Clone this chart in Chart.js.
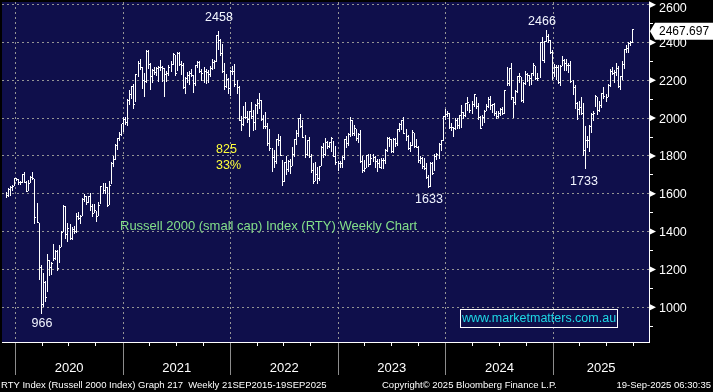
<!DOCTYPE html>
<html>
<head>
<meta charset="utf-8">
<title>RTY Index weekly</title>
<script src="https://cdn.jsdelivr.net/npm/chart.js@4.4.1/dist/chart.umd.min.js"></script>
<style>
  html, body { margin: 0; padding: 0; background: #000; }
  #wrap { width: 713px; height: 392px; }
</style>
</head>
<body>
<div id="wrap"><canvas id="rtyChart" width="713" height="392"></canvas></div>
<script>
// weekly bars, first one is the week ending Fri 22 Nov 2019, last one 19 Sep 2025
const firstWeek = Date.UTC(2019, 10, 22);

const weekClose = [
  1589, 1624, 1635, 1636, 1678, 1677,
  // 2020
  1658, 1657, 1700, 1662, 1614, 1656, 1687, 1679, 1476, 1450, 1210, 1014, 1131, 1052, 1247, 1212, 1229, 1260,
  1293, 1207, 1316, 1394, 1535, 1387, 1418, 1362, 1413, 1398, 1479, 1467, 1480, 1568, 1585, 1554, 1584, 1535,
  1497, 1509, 1479, 1537, 1636, 1619, 1633, 1538, 1645, 1760, 1780, 1855, 1892, 1915, 1969, 1990,
  // 2021
  1975, 2091, 2123, 2168, 2074, 2233, 2289, 2266, 2201, 2192, 2352, 2286, 2221, 2254, 2243, 2264, 2270, 2266,
  2264, 2229, 2236, 2269, 2286, 2337, 2238, 2344, 2285, 2280, 2163, 2209, 2226, 2236, 2227, 2181, 2277, 2292,
  2249, 2237, 2248, 2241, 2233, 2263, 2293, 2297, 2437, 2412, 2343, 2245, 2168, 2202, 2156, 2249, 2245,
  // 2022
  2179, 2162, 1988, 1965, 2003, 2004, 1993, 2035, 2009, 1979, 2068, 2077, 2092, 1994, 1955, 1953, 1864, 1839,
  1792, 1773, 1887, 1883, 1800, 1665, 1765, 1728, 1769, 1744, 1806, 1885, 1921, 1996, 1957, 1899, 1809, 1882,
  1798, 1721, 1665, 1702, 1682, 1742, 1846, 1806, 1869, 1848, 1869, 1892, 1797, 1764, 1760, 1761,
  // 2023
  1792, 1887, 1867, 1912, 1985, 1918, 1946, 1890, 1911, 1772, 1725, 1735, 1802, 1754, 1784, 1792, 1768, 1758,
  1740, 1774, 1774, 1830, 1890, 1889, 1821, 1889, 1864, 1942, 1964, 1987, 1921, 1904, 1840, 1853, 1922, 1852,
  1847, 1776, 1785, 1745, 1731, 1684, 1636, 1760, 1705, 1797, 1807, 1863, 1880, 2006, 2017, 2027,
  // 2024
  1951, 1950, 1947, 1986, 1962, 2013, 2032, 2016, 2076, 2083, 2039, 2072, 2124, 2062, 2003, 1947, 2002, 2036,
  2059, 2096, 2069, 2070, 2023, 2006, 2022, 2047, 2026, 2148, 2184, 2260, 2109, 2083, 2142, 2218, 2218, 2092,
  2182, 2228, 2223, 2212, 2234, 2276, 2208, 2209, 2399, 2303, 2406, 2434, 2409, 2346, 2241, 2266,
  // 2025
  2268, 2189, 2275, 2307, 2287, 2280, 2280, 2195, 2163, 2075, 2044, 2057, 2023, 1827, 1881, 1883, 1957, 2020,
  2023, 2113, 2039, 2066, 2132, 2112, 2109, 2172, 2249, 2234, 2240, 2261, 2167, 2218, 2286, 2362, 2366, 2392,
  2398, 2467.697
];

const weekHigh = [
  1610, 1628, 1640, 1646, 1682, 1681,
  1678, 1668, 1705, 1715, 1670, 1673, 1696, 1716, 1680, 1550, 1444, 1225, 1180, 1138, 1280, 1250, 1240, 1336,
  1300, 1305, 1330, 1405, 1538, 1535, 1445, 1440, 1425, 1430, 1498, 1505, 1485, 1575, 1600, 1590, 1590, 1605,
  1545, 1545, 1510, 1555, 1640, 1655, 1655, 1635, 1668, 1770, 1800, 1862, 1895, 1925, 1970, 2005,
  2007, 2101, 2150, 2168, 2178, 2235, 2300, 2315, 2270, 2240, 2360, 2358, 2290, 2260, 2268, 2270, 2275, 2305,
  2275, 2266, 2250, 2280, 2302, 2345, 2336, 2348, 2350, 2300, 2290, 2215, 2245, 2250, 2260, 2230, 2280, 2300,
  2300, 2260, 2270, 2260, 2255, 2275, 2310, 2305, 2442, 2458, 2420, 2390, 2290, 2235, 2210, 2255, 2275,
  2285, 2200, 2170, 2010, 2062, 2085, 2040, 2040, 2085, 2045, 2075, 2100, 2135, 2098, 2015, 2030, 1975, 1945,
  1842, 1830, 1890, 1915, 1905, 1780, 1770, 1798, 1780, 1785, 1845, 1890, 1935, 2000, 2021, 1990, 1910, 1885,
  1900, 1810, 1765, 1770, 1740, 1745, 1850, 1870, 1895, 1880, 1875, 1900, 1880, 1850, 1775, 1775,
  1800, 1890, 1905, 1920, 2004, 1990, 1965, 1945, 1920, 1935, 1800, 1780, 1805, 1810, 1810, 1810, 1800, 1785,
  1785, 1790, 1790, 1835, 1900, 1900, 1890, 1895, 1895, 1945, 1975, 1990, 2004, 1945, 1910, 1875, 1935, 1920,
  1890, 1855, 1800, 1795, 1790, 1765, 1700, 1770, 1770, 1810, 1815, 1870, 1885, 2010, 2050, 2040,
  2027, 1975, 1955, 2000, 2000, 2015, 2070, 2030, 2080, 2110, 2075, 2090, 2125, 2110, 2080, 2010, 2015, 2045,
  2075, 2110, 2115, 2075, 2080, 2040, 2040, 2055, 2060, 2150, 2270, 2265, 2290, 2110, 2150, 2225, 2240, 2215,
  2190, 2250, 2240, 2230, 2240, 2290, 2275, 2240, 2405, 2430, 2410, 2466, 2445, 2415, 2360, 2285,
  2280, 2280, 2280, 2330, 2310, 2310, 2290, 2300, 2200, 2175, 2085, 2090, 2110, 2080, 1960, 1905, 1965, 2025,
  2040, 2120, 2110, 2090, 2135, 2165, 2130, 2180, 2260, 2270, 2255, 2290, 2275, 2225, 2300, 2365, 2385, 2400,
  2410, 2470
];

const weekLow = [
  1575, 1585, 1590, 1615, 1640, 1665,
  1648, 1645, 1655, 1655, 1610, 1617, 1655, 1672, 1438, 1443, 1146, 966, 1000, 1026, 1080, 1165, 1170, 1245,
  1250, 1190, 1235, 1320, 1396, 1360, 1345, 1355, 1355, 1385, 1390, 1460, 1440, 1480, 1555, 1540, 1550, 1510,
  1475, 1497, 1450, 1480, 1545, 1600, 1600, 1530, 1540, 1650, 1740, 1780, 1830, 1880, 1905, 1925,
  1965, 1960, 2070, 2100, 2050, 2085, 2215, 2255, 2155, 2110, 2188, 2260, 2150, 2185, 2230, 2225, 2190, 2250,
  2190, 2110, 2190, 2225, 2246, 2280, 2225, 2250, 2275, 2230, 2155, 2130, 2185, 2175, 2215, 2135, 2170, 2265,
  2240, 2195, 2185, 2180, 2185, 2220, 2255, 2260, 2295, 2360, 2330, 2240, 2150, 2160, 2130, 2115, 2230,
  2165, 2130, 1985, 1930, 1960, 1995, 1975, 1900, 1995, 1930, 1935, 2020, 2050, 1985, 1945, 1945, 1850, 1825,
  1715, 1735, 1755, 1852, 1798, 1641, 1660, 1700, 1715, 1705, 1745, 1795, 1860, 1900, 1950, 1895, 1790, 1800,
  1790, 1710, 1650, 1665, 1650, 1670, 1745, 1790, 1800, 1835, 1840, 1820, 1795, 1750, 1720, 1735,
  1735, 1780, 1840, 1850, 1900, 1905, 1905, 1880, 1870, 1765, 1710, 1715, 1735, 1740, 1750, 1770, 1735, 1715,
  1735, 1730, 1730, 1755, 1820, 1845, 1815, 1815, 1845, 1855, 1925, 1935, 1915, 1880, 1830, 1820, 1855, 1840,
  1840, 1765, 1755, 1730, 1725, 1680, 1633, 1636, 1700, 1720, 1780, 1785, 1825, 1880, 1990, 2005,
  1945, 1930, 1900, 1935, 1945, 1945, 1950, 1995, 2005, 2040, 2025, 2020, 2060, 2050, 1990, 1943, 1960, 1975,
  2040, 2055, 2045, 2025, 2010, 1995, 2000, 2010, 2015, 2020, 2170, 2170, 2095, 2000, 2070, 2135, 2185, 2085,
  2080, 2175, 2190, 2170, 2175, 2225, 2200, 2195, 2210, 2300, 2290, 2405, 2395, 2340, 2200, 2220,
  2200, 2180, 2170, 2275, 2250, 2250, 2240, 2185, 2120, 2050, 1990, 2015, 2015, 1800, 1733, 1840, 1820, 1920,
  1985, 2060, 2015, 2030, 2055, 2100, 2085, 2110, 2165, 2230, 2185, 2225, 2160, 2150, 2200, 2260, 2345, 2345,
  2380, 2395
];

const yTicks = [1000, 1200, 1400, 1600, 1800, 2000, 2200, 2400, 2600];
const yMinor = [900, 1100, 1300, 1500, 1700, 1900, 2100, 2300, 2500];
const yearLabels = ['2020', '2021', '2022', '2023', '2024', '2025'];

const DAY = 86400000;
const FONT = "'Liberation Sans', Arial, sans-serif";
const NAVY = '#0f0f4b';
const GRID = '#959595';
const barShift = 9; // Bloomberg draws the weekly bar a little right of the friday

const yearStarts = yearLabels.map(y => Date.UTC(+y, 0, 1) / DAY);
const quarterStarts = [];
for (let y = 2019; y <= 2025; y++) {
    [3, 6, 9].forEach(m => quarterStarts.push(Date.UTC(y, m, 1) / DAY));
}
const xMin = yearStarts[0] - 45;
const xMax = yearStarts[5] + 325;
const weekX = weekClose.map((_, i) => firstWeek / DAY + 7 * i + barShift);

// little 3x1 image: the close tick sits one pixel right of the bar
const closeTick = document.createElement('canvas');
closeTick.width = 3;
closeTick.height = 1;
const tctx = closeTick.getContext('2d');
tctx.fillStyle = '#ffffff';
tctx.fillRect(2, 0, 1, 1);

const notes = [
    {text: '2458', x: 219, y: 18, color: '#f2f5ff', align: 'center'},
    {text: '825', x: 216, y: 150, color: '#ffff3a', align: 'left'},
    {text: '33%', x: 216, y: 166, color: '#ffff3a', align: 'left'},
    {text: '966', x: 42, y: 324, color: '#f2f5ff', align: 'center'},
    {text: '1633', x: 429, y: 200, color: '#f2f5ff', align: 'center'},
    {text: '2466', x: 542, y: 22, color: '#f2f5ff', align: 'center'},
    {text: '1733', x: 584, y: 182, color: '#f2f5ff', align: 'center'}
];

const decor = {
    id: 'decor',
    beforeDraw(chart) {
        const {ctx, chartArea: a} = chart;
        ctx.save();
        ctx.fillStyle = '#000';
        ctx.fillRect(0, 0, chart.width, chart.height);
        ctx.fillStyle = NAVY;
        ctx.fillRect(a.left, a.top, a.right - a.left, a.bottom - a.top);
        ctx.restore();
    },
    beforeDatasetsDraw(chart) {
        // snap bars and ticks on whole pixels so they stay crisp
        chart.getDatasetMeta(0).data.forEach(el => {
            el.x = Math.floor(el.x) + 0.5;
            el.y = Math.round(el.y);
            el.base = Math.round(el.base);
        });
        chart.getDatasetMeta(1).data.forEach(el => {
            el.x = Math.floor(el.x) + 0.5;
            el.y = Math.floor(el.y) + 0.5;
        });
    },
    afterDraw(chart) {
        const {ctx, chartArea: a} = chart;
        const xs = chart.scales.x, ys = chart.scales.y;
        ctx.save();

        // x axis: year separators, quarter ticks, year labels
        ctx.lineWidth = 1;
        ctx.strokeStyle = '#8c8c8c';
        yearStarts.forEach(v => {
            const px = Math.floor(xs.getPixelForValue(v)) + 0.5;
            ctx.beginPath();
            ctx.moveTo(px, a.bottom + 1);
            ctx.lineTo(px, a.bottom + 33);
            ctx.stroke();
        });
        ctx.strokeStyle = '#ffffff';
        quarterStarts.forEach(v => {
            if (v < xMin || v > xMax) return;
            const px = Math.floor(xs.getPixelForValue(v)) + 0.5;
            ctx.beginPath();
            ctx.moveTo(px, a.bottom + 1);
            ctx.lineTo(px, a.bottom + 4);
            ctx.stroke();
        });
        ctx.fillStyle = '#ffffff';
        ctx.font = '13px ' + FONT;
        ctx.textAlign = 'center';
        ctx.textBaseline = 'middle';
        yearLabels.forEach((lab, i) => {
            const l = xs.getPixelForValue(yearStarts[i]);
            const r = i < 5 ? xs.getPixelForValue(yearStarts[i + 1]) : a.right;
            ctx.fillText(lab, (l + r) / 2, a.bottom + 26);
        });

        // y axis: minor ticks, arrow markers, labels
        yMinor.forEach(v => {
            const py = Math.floor(ys.getPixelForValue(v)) + 0.5;
            ctx.beginPath();
            ctx.moveTo(a.right, py);
            ctx.lineTo(a.right + 4, py);
            ctx.stroke();
        });
        ctx.font = '12.5px ' + FONT;
        ctx.textAlign = 'left';
        yTicks.forEach(v => {
            const py = ys.getPixelForValue(v);
            ctx.beginPath();
            ctx.moveTo(a.right, py - 3.5);
            ctx.lineTo(a.right + 7, py);
            ctx.lineTo(a.right, py + 3.5);
            ctx.closePath();
            ctx.fill();
            ctx.fillText(String(v), a.right + 10, Math.max(py + 1, 9));
        });

        // last price flag
        const last = weekClose[weekClose.length - 1];
        const ly = ys.getPixelForValue(last) + 1.5;
        ctx.beginPath();
        ctx.moveTo(a.right + 1, ly);
        ctx.lineTo(a.right + 6, ly - 8.5);
        ctx.lineTo(chart.width, ly - 8.5);
        ctx.lineTo(chart.width, ly + 8.5);
        ctx.lineTo(a.right + 6, ly + 8.5);
        ctx.closePath();
        ctx.fillStyle = '#ffffff';
        ctx.fill();
        ctx.fillStyle = '#000000';
        ctx.font = '12px ' + FONT;
        ctx.fillText(last.toFixed(3), a.right + 10, ly + 0.5);

        // annotations
        ctx.font = '12.5px ' + FONT;
        notes.forEach(n => {
            ctx.fillStyle = n.color;
            ctx.textAlign = n.align;
            ctx.fillText(n.text, n.x, n.y);
        });
        ctx.font = '13px ' + FONT;
        ctx.textAlign = 'left';
        ctx.fillStyle = '#84e08a';
        ctx.fillText('Russell 2000 (small cap) Index (RTY) Weekly Chart', 120, 226);

        // web address box
        ctx.strokeStyle = '#ffffff';
        ctx.strokeRect(460.5, 309.5, 157, 18);
        ctx.fillStyle = '#1ed8e6';
        ctx.font = '12.5px ' + FONT;
        ctx.textAlign = 'center';
        ctx.fillText('www.marketmatters.com.au', 539, 319);

        // footer
        ctx.fillStyle = '#ffffff';
        ctx.font = '9.5px ' + FONT;
        ctx.textAlign = 'left';
        ctx.fillText('RTY Index (Russell 2000 Index) Graph 217  Weekly 21SEP2015-19SEP2025', 1, 385);
        ctx.fillText('Copyright\u00a9 2025 Bloomberg Finance L.P.', 382, 385);
        ctx.textAlign = 'right';
        ctx.fillText('19-Sep-2025 06:30:35', 711, 385);
        ctx.restore();
    }
};

new Chart(document.getElementById('rtyChart'), {
    type: 'bar',
    data: {
        datasets: [{
            type: 'bar',
            label: 'High-Low',
            data: weekX.map((x, i) => ({x: x, y: [weekLow[i], weekHigh[i]]})),
            backgroundColor: '#ffffff',
            borderWidth: 0,
            barThickness: 1,
            inflateAmount: 0,
            order: 1
        }, {
            type: 'scatter',
            label: 'Close',
            data: weekX.map((x, i) => ({x: x, y: weekClose[i]})),
            pointStyle: closeTick,
            pointRadius: 1,
            pointHoverRadius: 1,
            order: 0
        }]
    },
    options: {
        responsive: false,
        animation: false,
        devicePixelRatio: 1,
        events: [],
        layout: {padding: 0},
        plugins: {
            legend: {display: false},
            tooltip: {enabled: false}
        },
        scales: {
            x: {
                type: 'linear',
                min: xMin,
                max: xMax,
                offset: false,
                afterBuildTicks: s => { s.ticks = yearStarts.map(v => ({value: v})); },
                afterFit: s => { s.height = 50; },
                grid: {color: GRID, lineWidth: 1, drawTicks: false, offset: false},
                border: {display: true, color: '#ffffff', width: 1, dash: [2, 3]},
                ticks: {display: false}
            },
            y: {
                type: 'linear',
                position: 'right',
                min: 816,
                max: 2614,
                afterBuildTicks: s => { s.ticks = yTicks.map(v => ({value: v})); },
                afterFit: s => { s.width = 64; },
                grid: {color: GRID, lineWidth: 1, drawTicks: false},
                border: {display: true, color: '#ffffff', width: 1, dash: [2, 3]},
                ticks: {display: false}
            }
        }
    },
    plugins: [decor]
});
</script>
</body>
</html>
